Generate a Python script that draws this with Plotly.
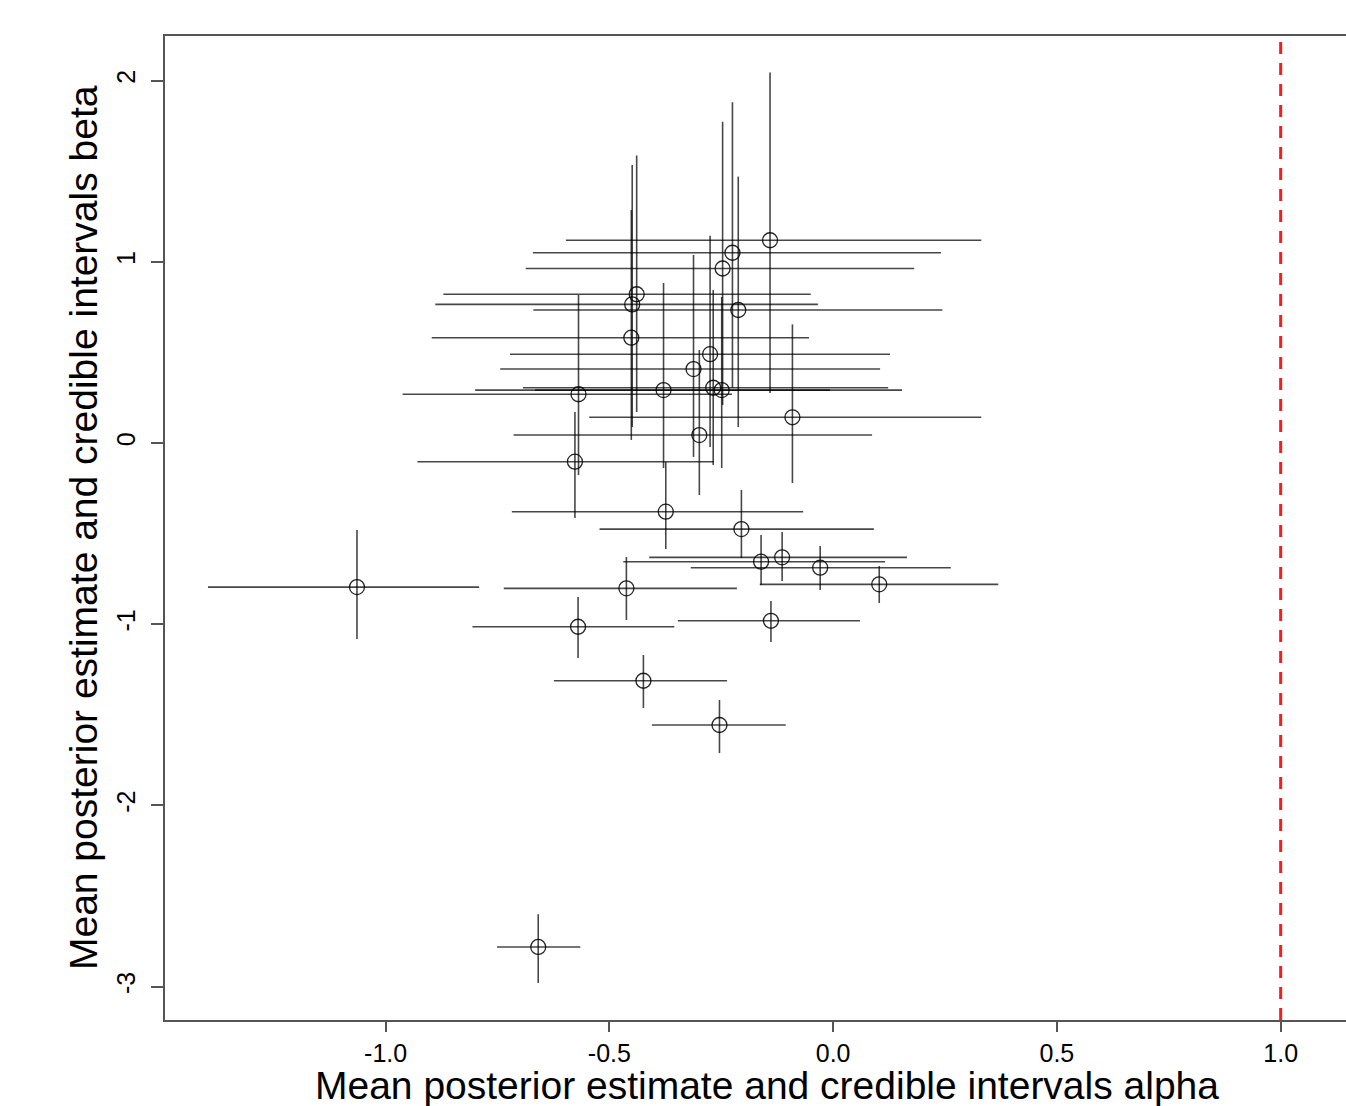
import plotly.graph_objects as go

# ---- data: mean posterior estimates and credible intervals ----
alpha_mean = [-0.141, -0.225, -0.247, -0.439, -0.449, -0.212, -0.451, -0.275, -0.312,
              -0.569, -0.379, -0.268, -0.249, -0.091, -0.299, -0.577, -0.374, -0.205,
              -0.161, -0.114, -0.029, 0.103, -0.462, -0.570, -0.139, -0.424, -0.254,
              -1.064, -0.659]
alpha_lo = [-0.597, -0.671, -0.687, -0.871, -0.889, -0.670, -0.897, -0.722, -0.744,
            -0.962, -0.800, -0.693, -0.666, -0.545, -0.714, -0.929, -0.718, -0.522,
            -0.469, -0.411, -0.318, -0.164, -0.736, -0.806, -0.347, -0.624, -0.405,
            -1.397, -0.751]
alpha_hi = [0.331, 0.241, 0.181, -0.050, -0.034, 0.244, -0.054, 0.127, 0.105,
            -0.226, -0.007, 0.123, 0.154, 0.331, 0.087, -0.267, -0.067, 0.091,
            0.116, 0.165, 0.263, 0.369, -0.215, -0.355, 0.060, -0.237, -0.106,
            -0.791, -0.565]
beta_mean = [1.119, 1.050, 0.963, 0.821, 0.765, 0.734, 0.581, 0.490, 0.408,
             0.269, 0.292, 0.305, 0.292, 0.142, 0.044, -0.103, -0.379, -0.475,
             -0.655, -0.631, -0.688, -0.780, -0.802, -1.014, -0.981, -1.312, -1.556,
             -0.795, -2.781]
beta_lo = [0.276, 0.304, 0.210, 0.171, 0.088, 0.088, 0.017, -0.022, -0.077,
           -0.177, -0.138, -0.121, -0.138, -0.221, -0.287, -0.414, -0.585, -0.635,
           -0.784, -0.762, -0.811, -0.883, -0.977, -1.187, -1.098, -1.462, -1.711,
           -1.082, -2.980]
beta_hi = [2.044, 1.880, 1.773, 1.586, 1.534, 1.470, 1.286, 1.144, 1.038,
           0.817, 0.883, 0.844, 0.806, 0.655, 0.513, 0.171, -0.105, -0.259,
           -0.508, -0.491, -0.568, -0.679, -0.629, -0.850, -0.872, -1.170, -1.418,
           -0.480, -2.600]

x_tickvals = [-1.0, -0.5, 0.0, 0.5, 1.0]
x_ticktext = ["-1.0", "-0.5", "0.0", "0.5", "1.0"]
y_tickvals = [-3, -2, -1, 0, 1, 2]
y_ticktext = ["-3", "-2", "-1", "0", "1", "2"]
ref_alpha = 1.0

x_title = "Mean posterior estimate and credible intervals alpha"
y_title = "Mean posterior estimate and credible intervals beta"

FONT = "Liberation Sans, Arial, sans-serif"
LINE_COL = "rgba(0,0,0,0.72)"
AXIS_COL = "#555555"

ex_plus = [h - m for h, m in zip(alpha_hi, alpha_mean)]
ex_minus = [m - l for m, l in zip(alpha_mean, alpha_lo)]
ey_plus = [h - m for h, m in zip(beta_hi, beta_mean)]
ey_minus = [m - l for m, l in zip(beta_mean, beta_lo)]

fig = go.Figure()
fig.add_trace(go.Scatter(
    x=alpha_mean, y=beta_mean, mode="markers",
    marker=dict(symbol="circle-open", size=15, color="rgba(0,0,0,0.85)",
                line=dict(width=1.3, color="rgba(0,0,0,0.85)")),
    error_x=dict(type="data", symmetric=False, array=ex_plus, arrayminus=ex_minus,
                 width=0, thickness=1.6, color=LINE_COL),
    error_y=dict(type="data", symmetric=False, array=ey_plus, arrayminus=ey_minus,
                 width=0, thickness=1.6, color=LINE_COL),
    showlegend=False, hoverinfo="x+y",
))

fig.add_shape(type="line", xref="x", yref="paper", x0=ref_alpha, x1=ref_alpha,
              y0=0, y1=1, line=dict(color="#ff1a1a", width=3, dash="12px,9px"))

fig.update_layout(
    width=1346, height=1106,
    margin=dict(l=165, r=0, t=36, b=86),
    paper_bgcolor="white", plot_bgcolor="white",
    font=dict(family=FONT, color="black"),
    xaxis=dict(range=[-1.493, 1.146], tickvals=x_tickvals, ticktext=x_ticktext,
               showgrid=False, zeroline=False, showline=True, linecolor=AXIS_COL,
               linewidth=1.5, mirror=True, ticks="outside", ticklen=10, tickwidth=1.5,
               tickcolor=AXIS_COL, tickfont=dict(size=25, family=FONT, color="black"),
               ticklabelstandoff=0),
    yaxis=dict(range=[-3.184, 2.246], tickvals=y_tickvals, ticktext=y_ticktext,
               showgrid=False, zeroline=False, showline=True, linecolor=AXIS_COL,
               linewidth=1.5, ticks="outside", ticklen=12, tickwidth=1.5,
               tickcolor=AXIS_COL, tickangle=-90,
               tickfont=dict(size=25, family=FONT, color="black"),
               ticklabelstandoff=6),
    annotations=[
        dict(text=x_title, xref="paper", yref="paper", x=0.51, y=-0.067,
             xanchor="center", yanchor="middle", showarrow=False,
             font=dict(size=39, family=FONT, color="black")),
        dict(text=y_title, xref="paper", yref="paper", x=-0.0694, y=0.5,
             xanchor="center", yanchor="middle", showarrow=False, textangle=-90,
             font=dict(size=39, family=FONT, color="black")),
    ],
)

fig.write_html("out.html", config={"displayModeBar": False},
               post_script="document.body.style.margin='0';")
